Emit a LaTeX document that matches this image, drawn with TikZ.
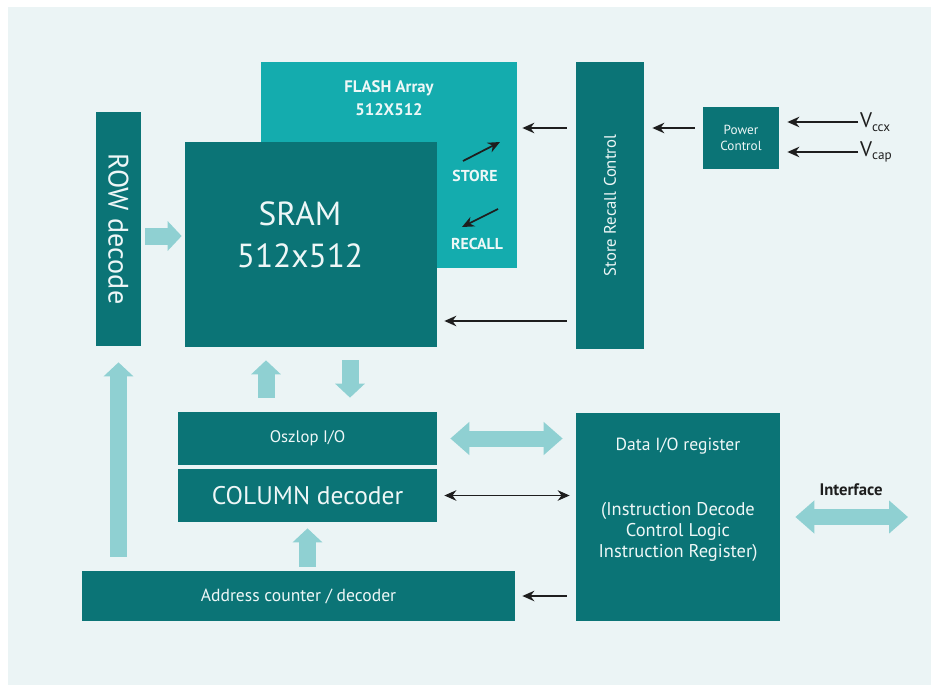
\documentclass[tikz,border=0pt]{standalone}
\usepackage{fontspec}
\setmainfont{PT Sans}
\usetikzlibrary{arrows.meta}
\definecolor{tealdark}{HTML}{0B7476}
\definecolor{tealflash}{HTML}{14ACAE}
\definecolor{tealpale}{HTML}{8FD0D2}
\definecolor{bgpale}{HTML}{EBF4F5}
\definecolor{wiredark}{HTML}{1E1E1E}
\definecolor{textpale}{HTML}{EEF7F7}

\begin{document}
\begin{tikzpicture}[
    block/.style={fill=tealdark, text=textpale, inner sep=0pt, align=center},
    lbl/.style={text=textpale, inner sep=1pt, align=center},
    fatarrow/.style={draw=tealpale, line width=0.34cm,
                     -{Triangle[width=0.58cm,length=0.28cm]}},
    fatboth/.style={draw=tealpale, line width=0.32cm,
                    {Triangle[width=0.64cm,length=0.38cm]}-{Triangle[width=0.64cm,length=0.38cm]}},
    wire/.style={draw=wiredark, line width=1pt, -{Stealth[length=2.4mm,width=2.1mm]}},
    wireboth/.style={draw=wiredark, line width=1pt,
                     {Stealth[length=2.4mm,width=2.1mm]}-{Stealth[length=2.4mm,width=2.1mm]}},
]
\useasboundingbox (0,0) rectangle (18.76,-13.8);
\fill[white] (0,0) rectangle (18.76,-13.8);
\fill[bgpale] (0.16,-0.14) rectangle (18.62,-13.7);

% FLASH array
\node[block, fill=tealflash, minimum width=5.12cm, minimum height=4.12cm] (flash) at (7.78,-3.30) {};
\node[lbl, font=\bfseries\fontsize{9.5}{13}\selectfont] (flashtxt) at (7.78,-1.97) {FLASH Array\\512X512};
\node[lbl, font=\bfseries\fontsize{9}{11}\selectfont] (store) at (9.50,-3.52) {STORE};
\node[lbl, font=\bfseries\fontsize{9}{11}\selectfont] (recall) at (9.54,-4.88) {RECALL};
\coordinate (st0) at (9.26,-3.22);
\coordinate (st1) at (10.0,-2.84);
\coordinate (rc0) at (9.96,-4.18);
\coordinate (rc1) at (9.24,-4.54);
\draw[wire] (st0) -- (st1);
\draw[wire] (rc0) -- (rc1);

% SRAM
\node[block, minimum width=5.04cm, minimum height=4.10cm] (sram) at (6.22,-4.89) {};
\node[lbl, font=\fontsize{19}{24}\selectfont] (sramtxt) at (6.0,-4.70) {SRAM\\512x512};

% decoders
\node[block, minimum width=0.9cm, minimum height=4.68cm,
      label={[lbl, rotate=-90, font=\fontsize{16}{18}\selectfont]center:ROW decode}] (row) at (2.37,-4.58) {};
\node[block, minimum width=5.18cm, minimum height=1.06cm, font=\fontsize{9.5}{11}\selectfont] (oszlop) at (6.15,-8.77) {Oszlop I/O};
\node[block, minimum width=5.18cm, minimum height=1.06cm, font=\fontsize{14.5}{16}\selectfont] (column) at (6.15,-9.91) {COLUMN decoder};
\node[block, minimum width=8.66cm, minimum height=1.0cm, font=\fontsize{10}{12}\selectfont] (addr) at (5.97,-11.92) {Address counter / decoder};

% control
\node[block, minimum width=1.36cm, minimum height=5.74cm,
      label={[lbl, rotate=90, font=\fontsize{9.5}{11}\selectfont]center:Store Recall Control}] (src) at (12.20,-4.11) {};
\node[block, minimum width=1.52cm, minimum height=1.24cm, font=\fontsize{7.5}{9}\selectfont] (power) at (14.82,-2.76) {Power\\Control};
\node[text=wiredark, anchor=west, inner sep=1pt, font=\fontsize{12}{14}\selectfont] (vccx) at (17.16,-2.44) {V\raisebox{-0.35ex}{\fontsize{7.5}{9}\selectfont ccx}};
\node[text=wiredark, anchor=west, inner sep=1pt, font=\fontsize{12}{14}\selectfont] (vcap) at (17.16,-3.04) {V\raisebox{-0.35ex}{\fontsize{7.5}{9}\selectfont cap}};

% data register
\node[block, minimum width=4.08cm, minimum height=4.16cm] (data) at (13.56,-10.34) {};
\node[lbl, font=\fontsize{10}{12}\selectfont] (datatxt) at (13.56,-8.92) {Data I/O register};
\node[lbl, font=\fontsize{10.5}{12}\selectfont] (instrtxt) at (13.56,-10.64) {(Instruction Decode\\Control Logic\\Instruction Register)};
\node[text=wiredark, font=\bfseries\fontsize{9.5}{11}\selectfont] (iface) at (17.02,-9.80) {Interface};
\coordinate (ifend) at (18.16,-10.34);

% dikke pijlen
\draw[fatarrow, shorten <=0.08cm, shorten >=0.06cm] (row.east |- 0,-4.72) -- (sram.west |- 0,-4.72);
\draw[fatarrow, shorten <=0.28cm, shorten >=0.32cm] (row.south |- addr.north) -- (row.south);
\draw[fatarrow, shorten <=0.28cm, shorten >=0.26cm] (oszlop.north -| 5.32,0) -- (sram.south -| 5.32,0);
\draw[fatarrow, shorten <=0.26cm, shorten >=0.28cm] (sram.south -| 7.0,0) -- (oszlop.north -| 7.0,0);
\draw[fatarrow, shorten <=0.08cm, shorten >=0.12cm] (addr.north -| column.south) -- (column.south);
\draw[fatboth, shorten <=0.26cm, shorten >=0.26cm] (oszlop.east) -- (data.west |- oszlop.east);
\draw[fatboth, shorten <=0.3cm] (data.east) -- (ifend);

% dunne pijlen
\draw[wire, shorten <=0.18cm, shorten >=0.1cm] (src.west |- 0,-2.56) -- (flash.east |- 0,-2.56);
\draw[wire, shorten <=0.16cm, shorten >=0.16cm] (power.west |- 0,-2.56) -- (src.east |- 0,-2.56);
\draw[wire, shorten <=0.18cm, shorten >=0.14cm] (src.west |- 0,-6.42) -- (sram.east |- 0,-6.42);
\draw[wireboth, shorten <=0.14cm, shorten >=0.12cm] (column.east) -- (data.west |- column.east);
\draw[wire, shorten <=0.18cm, shorten >=0.14cm] (data.west |- addr.east) -- (addr.east);
\draw[wire, shorten >=0.16cm] (vccx.west) -- (power.east |- vccx.west);
\draw[wire, shorten >=0.16cm] (vcap.west) -- (power.east |- vcap.west);

\end{tikzpicture}
\end{document}
